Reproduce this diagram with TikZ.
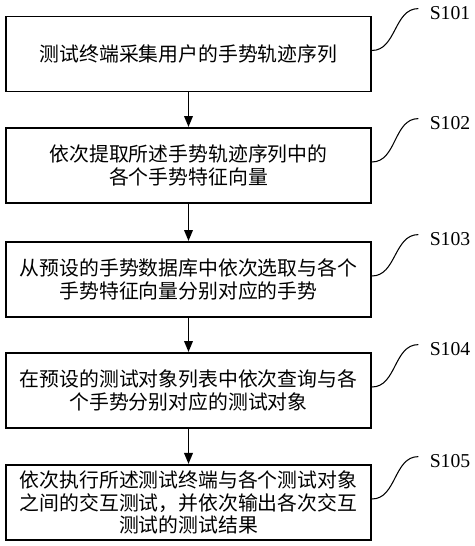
\documentclass[tikz,border=0pt]{standalone}
\usepackage{fontspec}
\setmainfont{Liberation Serif}
\newfontfamily\cjk{Noto Sans CJK SC}
\usetikzlibrary{arrows.meta}
\tikzset{
  stepbox/.style={draw, line width=1.1pt, minimum width=7.3cm, minimum height=1.5cm,
    align=center, font=\cjk\fontsize{11.3}{12.8}\selectfont},
  steplabel/.style={font=\fontsize{11.2}{13}\selectfont},
  flow/.style={line width=1.1pt, -{Triangle[length=0.22cm,width=0.17cm]}},
  lead/.style={line width=0.6pt}
}
\begin{document}
\begin{tikzpicture}[x=0.02cm, y=-0.02cm]
  \useasboundingbox (0,0) rectangle (474,546);
  % steps
  \node [stepbox] (b1) at (188.5,54) {测试终端采集用户的手势轨迹序列};
  \node [stepbox] (b2) at (188.5,165.5) {依次提取所述手势轨迹序列中的\\各个手势特征向量};
  \node [stepbox] (b3) at (188.5,279.5) {从预设的手势数据库中依次选取与各个\\手势特征向量分别对应的手势};
  \node [stepbox] (b4) at (188.5,390.5) {在预设的测试对象列表中依次查询与各\\个手势分别对应的测试对象};
  \node [stepbox] (b5) at (188.5,502.5) {依次执行所述测试终端与各个测试对象\\之间的交互测试，并依次输出各次交互\\测试的测试结果};
  % step numbers
  \node [steplabel] (s1) at (450,13) {S101};
  \node [steplabel] (s2) at (450,123) {S102};
  \node [steplabel] (s3) at (450,239) {S103};
  \node [steplabel] (s4) at (450,349) {S104};
  \node [steplabel] (s5) at (450,461) {S105};
  \foreach \i/\j in {1/2,2/3,3/4,4/5}
    \draw [flow] (b\i) -- (b\j);
  \foreach \i in {1,...,5}
    \draw [lead] ([yshift=2pt]b\i.east) to[out=0,in=180] ([xshift=-3pt,yshift=2.5pt]s\i.west);
\end{tikzpicture}
\end{document}
